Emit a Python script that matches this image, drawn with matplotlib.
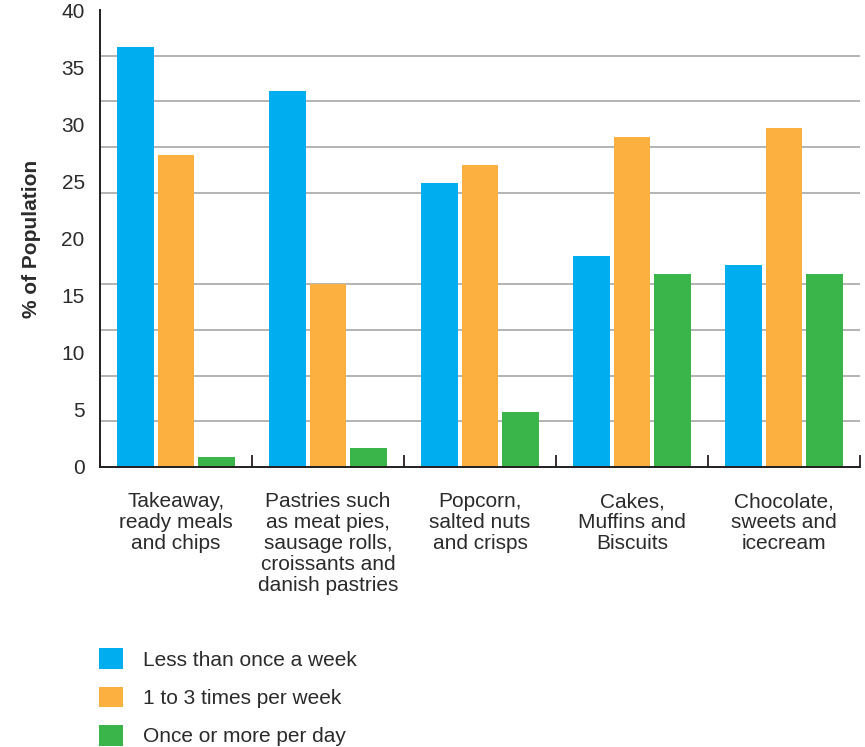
import numpy as np
import matplotlib
matplotlib.use("Agg")
import matplotlib.pyplot as plt
from matplotlib.ticker import FixedLocator

plt.rcParams["font.family"] = ["Liberation Sans", "DejaVu Sans"]

categories = [
    "Takeaway,\nready meals\nand chips",
    "Pastries such\nas meat pies,\nsausage rolls,\ncroissants and\ndanish pastries",
    "Popcorn,\nsalted nuts\nand crisps",
    "Cakes,\nMuffins and\nBiscuits",
    "Chocolate,\nsweets and\nicecream",
]
series_names = ["Less than once a week", "1 to 3 times per week", "Once or more per day"]
less_than_weekly = [36.8, 32.9, 24.9, 18.5, 17.7]
one_to_three_weekly = [27.3, 16.0, 26.4, 28.9, 29.7]
daily_or_more = [0.9, 1.7, 4.8, 16.9, 16.9]
series_values = [less_than_weekly, one_to_three_weekly, daily_or_more]
series_colors = ["#00AEEF", "#FBB040", "#39B54A"]
y_tick_labels = ["0", "5", "10", "15", "20", "25", "30", "35", "40"]

text_color = "#2b2b2b"
fs = 15

fig = plt.figure(figsize=(8.65, 7.47), dpi=100)
ax = fig.add_axes([100 / 865, 1 - 467 / 747, 760 / 865, 457 / 747])

x = np.arange(len(categories))
bar_w = 0.243
offset = 0.268
bars = []
for i, (vals, col) in enumerate(zip(series_values, series_colors)):
    b = ax.bar(x + (i - 1) * offset, vals, width=bar_w, color=col, zorder=3,
               label=series_names[i])
    bars.append(b)

ax.set_xlim(-0.5, len(categories) - 0.5)
ax.set_ylim(0, 40)

# grey rules every 4 units, labelled scale every 5 units
ax.yaxis.set_minor_locator(FixedLocator(np.arange(4, 41, 4)))
ax.yaxis.grid(True, which="minor", color="#b3b3b3", linewidth=1.4, zorder=0)
ax.yaxis.grid(False, which="major")
ax.set_yticks(np.arange(0, 41, 5))
ax.set_yticklabels(y_tick_labels)
ax.tick_params(axis="y", which="both", length=0, pad=11, labelsize=fs,
               labelcolor=text_color)

ax.set_xticks(x)
ax.set_xticklabels(categories, fontsize=fs, color=text_color, linespacing=1.13,
                   va="top")
ax.tick_params(axis="x", which="major", length=0, pad=18)
ax.xaxis.set_minor_locator(FixedLocator(np.arange(-0.5, len(categories), 1.0)))
ax.tick_params(axis="x", which="minor", direction="in", length=9, width=1.3,
               color="#231F20")

for side in ["top", "right"]:
    ax.spines[side].set_visible(False)
for side in ["left", "bottom"]:
    ax.spines[side].set_color("#231F20")
    ax.spines[side].set_linewidth(1.4)
    ax.spines[side].set_zorder(4)

ax.set_ylabel("% of Population", fontsize=fs, fontweight="bold",
              color=text_color, labelpad=15)

leg = fig.legend(handles=bars, labels=series_names, loc="upper left",
                 bbox_to_anchor=(91 / 865, 1 - 640 / 747), frameon=False,
                 fontsize=fs, handlelength=1.15, handleheight=1.15,
                 handletextpad=0.95, labelspacing=0.81, borderaxespad=0)
for t in leg.get_texts():
    t.set_color(text_color)

fig.savefig("out.png", dpi=100)
